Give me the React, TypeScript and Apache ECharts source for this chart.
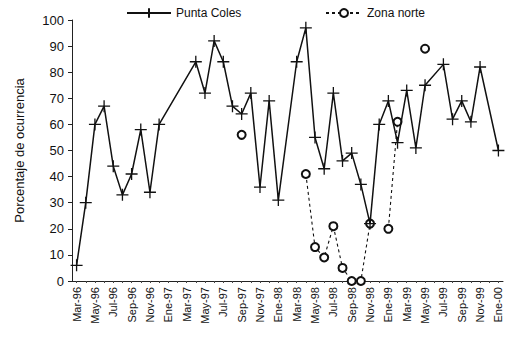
import React, { useEffect, useRef } from "react";
import * as echarts from "echarts";

const months: string[] = [
  "Mar-96", "Abr-96", "May-96", "Jun-96", "Jul-96", "Ago-96", "Sep-96", "Oct-96", "Nov-96", "Dic-96",
  "Ene-97", "Feb-97", "Mar-97", "Abr-97", "May-97", "Jun-97", "Jul-97", "Ago-97", "Sep-97", "Oct-97", "Nov-97", "Dic-97",
  "Ene-98", "Feb-98", "Mar-98", "Abr-98", "May-98", "Jun-98", "Jul-98", "Ago-98", "Sep-98", "Oct-98", "Nov-98", "Dic-98",
  "Ene-99", "Feb-99", "Mar-99", "Abr-99", "May-99", "Jun-99", "Jul-99", "Ago-99", "Sep-99", "Oct-99", "Nov-99", "Dic-99",
  "Ene-00",
];

const puntaColes: (number | null)[] = [
  6, 30, 60, 67, 44, 33, 41, 58, 34, 60,
  null, null, null, 84, 72, 92, 84, 67, 64, 72, 36, 69,
  31, null, 84, 97, 55, 43, 72, 46, 49, 37, 22, 60,
  69, 53, 73, 51, 75, null, 83, 62, 69, 61, 82, null,
  50,
];

const zonaNorte: (number | null)[] = [
  null, null, null, null, null, null, null, null, null, null,
  null, null, null, null, null, null, null, null, 56, null, null, null,
  null, null, null, 41, 13, 9, 21, 5, 0, 0, 22, null,
  20, 61, null, null, 89, null, null, null, null, null, null, null,
  null,
];

const yTicks = { min: 0, max: 100, interval: 10 };

const PLUS = "path://M0,-6L0,6M-6,0L6,0";

export default function App() {
  const ref = useRef<HTMLDivElement>(null);
  useEffect(() => {
    if (!ref.current) return;
    const chart = echarts.init(ref.current, null, { renderer: "svg" });
    const font = "Liberation Sans, Arial, sans-serif";
    chart.setOption({
      animation: false,
      textStyle: { fontFamily: font, color: "#111" },
      legend: [
        {
          data: ["Punta Coles"],
          left: 121,
          top: 2,
          itemWidth: 44,
          itemHeight: 12,
          textStyle: { fontFamily: font, fontSize: 12, color: "#111" },
        },
        {
          data: ["Zona norte"],
          left: 320,
          top: 2,
          itemWidth: 36,
          itemHeight: 10,
          textStyle: { fontFamily: font, fontSize: 12, color: "#111" },
        },
      ],
      grid: { left: 72, right: 11, top: 20, bottom: 59 },
      xAxis: {
        type: "category",
        data: months,
        boundaryGap: true,
        axisLine: { lineStyle: { color: "#222", width: 1 } },
        axisTick: { show: true, interval: 0, alignWithLabel: true, length: 2, lineStyle: { color: "#444" } },
        axisLabel: {
          interval: 1,
          rotate: 90,
          fontSize: 11,
          color: "#111",
          fontFamily: font,
          margin: 6,
        },
        splitLine: { show: false },
      },
      yAxis: {
        type: "value",
        min: yTicks.min,
        max: yTicks.max,
        interval: yTicks.interval,
        name: "Porcentaje de ocurrencia",
        nameLocation: "middle",
        nameGap: 46,
        nameTextStyle: { fontSize: 13, color: "#111", fontFamily: font },
        axisLine: { show: true, lineStyle: { color: "#222", width: 1 } },
        axisTick: { show: true, length: 4, lineStyle: { color: "#222" } },
        axisLabel: { fontSize: 13, color: "#111", fontFamily: font, margin: 8 },
        splitLine: { show: false },
      },
      series: [
        {
          name: "Punta Coles",
          type: "line",
          data: puntaColes,
          connectNulls: true,
          symbol: PLUS,
          symbolSize: 12,
          showAllSymbol: true,
          lineStyle: { color: "#111", width: 1.5 },
          itemStyle: { color: "#111", borderColor: "#111", borderWidth: 1.3 },
          z: 3,
        },
        {
          name: "Zona norte",
          type: "line",
          data: zonaNorte,
          connectNulls: false,
          symbol: "emptyCircle",
          symbolSize: 8,
          showAllSymbol: true,
          lineStyle: { color: "#111", width: 1.1, type: [3, 3] },
          itemStyle: { color: "#111", borderColor: "#111", borderWidth: 1.1 },
          z: 2,
        },
      ],
    });
    return () => chart.dispose();
  }, []);
  return (
    <div
      ref={ref}
      style={{ position: "fixed", left: 0, top: 0, width: 514, height: 340, background: "#fff" }}
    />
  );
}
